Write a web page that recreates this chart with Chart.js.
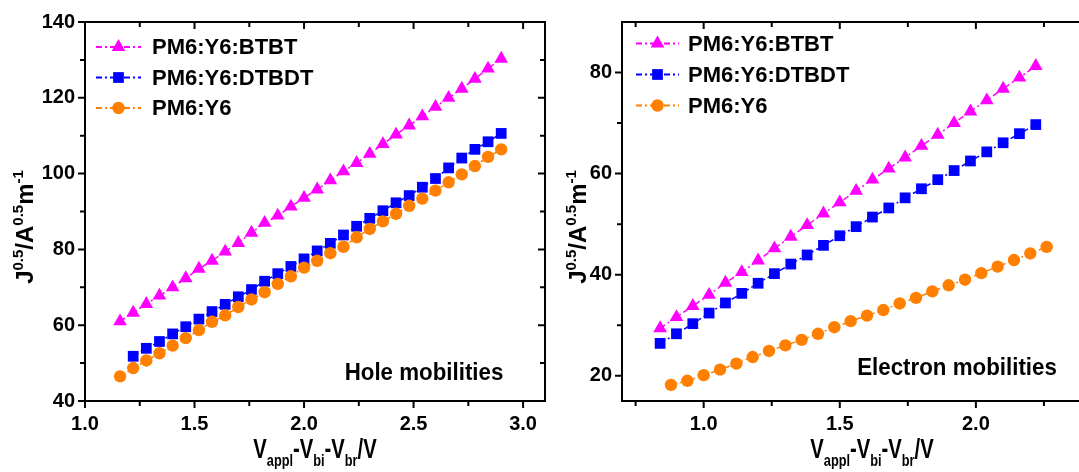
<!DOCTYPE html>
<html>
<head>
<meta charset="utf-8">
<script src="https://cdn.jsdelivr.net/npm/chart.js@4.4.1/dist/chart.umd.min.js"></script>
<style>
  html, body { margin: 0; padding: 0; background: #fff; overflow: hidden; }
  #wrap { position: relative; width: 1079px; height: 472px; overflow: hidden; }
  canvas { position: absolute; top: 0; }
  #holeChart { left: 0; }
  #elecChart { left: 560px; }
</style>
</head>
<body>
<div id="wrap">
  <canvas id="holeChart" width="560" height="472"></canvas>
  <canvas id="elecChart" width="570" height="472"></canvas>
</div>
<script>
// 1) Values
const seriesNames = ['PM6:Y6:BTBT', 'PM6:Y6:DTBDT', 'PM6:Y6'];
const seriesColors = ['#FF00FF', '#0000FF', '#FF8000'];
const seriesMarkers = ['triangle', 'rect', 'circle'];
const markerRadius = [7.9, 7.6, 6.2];

// hole-only devices
const holeV = [1.16, 1.22, 1.28, 1.34, 1.40, 1.46, 1.52, 1.58, 1.64, 1.70,
  1.76, 1.82, 1.88, 1.94, 2.00, 2.06, 2.12, 2.18, 2.24, 2.30,
  2.36, 2.42, 2.48, 2.54, 2.60, 2.66, 2.72, 2.78, 2.84, 2.90];
const holeBTBT = [61.0, 63.3, 65.6, 67.8, 70.0, 72.4, 74.9, 77.0, 79.4, 81.7,
  84.4, 87.0, 88.9, 91.3, 93.6, 95.8, 98.2, 100.6, 102.8, 105.2,
  107.8, 110.3, 112.7, 115.1, 117.6, 120.0, 122.4, 125.0, 127.7, 130.3];
const holeVDTBDT = [1.22, 1.28, 1.34, 1.40, 1.46, 1.52, 1.58, 1.64, 1.70,
  1.76, 1.82, 1.88, 1.94, 2.00, 2.06, 2.12, 2.18, 2.24, 2.30,
  2.36, 2.42, 2.48, 2.54, 2.60, 2.66, 2.72, 2.78, 2.84, 2.90];
const holeDTBDT = [51.8, 53.9, 55.7, 57.7, 59.6, 61.6, 63.6, 65.5, 67.5,
  69.4, 71.6, 73.6, 75.5, 77.5, 79.6, 81.6, 83.8, 86.1, 88.2,
  90.2, 92.3, 94.2, 96.4, 98.7, 101.5, 104.1, 106.4, 108.4, 110.6];
const holeY6 = [46.5, 48.7, 50.7, 52.6, 54.6, 56.6, 58.7, 60.9, 62.6, 64.8,
  66.8, 68.7, 70.9, 72.9, 75.2, 77.0, 79.0, 80.7, 83.2, 85.4,
  87.4, 89.4, 91.5, 93.4, 95.5, 97.7, 99.8, 102.0, 104.4, 106.4];

// electron-only devices
const elecV = [0.84, 0.90, 0.96, 1.02, 1.08, 1.14, 1.20, 1.26, 1.32, 1.38, 1.44, 1.50,
  1.56, 1.62, 1.68, 1.74, 1.80, 1.86, 1.92, 1.98, 2.04, 2.10, 2.16, 2.22];
const elecBTBT = [29.4, 31.6, 33.8, 36.0, 38.4, 40.5, 42.8, 45.2, 47.5, 49.8, 52.1, 54.3,
  56.6, 58.8, 61.0, 63.2, 65.5, 67.7, 70.0, 72.3, 74.5, 76.8, 79.0, 81.3];
const elecDTBDT = [26.4, 28.3, 30.3, 32.4, 34.4, 36.3, 38.3, 40.2, 42.1, 43.9, 45.8, 47.7,
  49.5, 51.4, 53.2, 55.2, 57.0, 58.8, 60.6, 62.5, 64.3, 66.1, 67.9, 69.7];
const elecVY6 = [0.88, 0.94, 1.00, 1.06, 1.12, 1.18, 1.24, 1.30, 1.36, 1.42, 1.48, 1.54,
  1.60, 1.66, 1.72, 1.78, 1.84, 1.90, 1.96, 2.02, 2.08, 2.14, 2.20, 2.26];
const elecY6 = [18.2, 19.0, 20.1, 21.2, 22.4, 23.7, 24.9, 26.0, 27.1, 28.3, 29.6, 30.8,
  31.9, 33.0, 34.3, 35.4, 36.7, 37.9, 39.0, 40.3, 41.6, 42.9, 44.2, 45.5];

// ticks
const holeXTicks = [1.0, 1.5, 2.0, 2.5, 3.0];
const holeXMinor = [1.25, 1.75, 2.25, 2.75];
const holeYTicks = [40, 60, 80, 100, 120, 140];
const holeYMinor = [50, 70, 90, 110, 130];
const elecXTicks = [1.0, 1.5, 2.0];
const elecXMinor = [0.75, 1.25, 1.75, 2.25];
const elecYTicks = [20, 40, 60, 80];
const elecYMinor = [30, 50, 70];

const FONT = '"Liberation Sans", Arial, sans-serif';
const DASH = [6, 3, 2, 3];

// 2) Frame with Origin-like ticks (out on bottom/left, in on top/right)
const framePlugin = {
  id: 'frame',
  afterDraw(chart, args, o) {
    const { ctx, chartArea: a, scales: { x, y } } = chart;
    ctx.save();
    ctx.strokeStyle = '#000';
    ctx.lineWidth = 2;
    ctx.strokeRect(a.left, a.top, a.right - a.left, a.bottom - a.top);
    ctx.beginPath();
    [[o.xMajor, 7], [o.xMinor, 5]].forEach(([vals, len]) => vals.forEach(v => {
      const px = x.getPixelForValue(v);
      ctx.moveTo(px, a.bottom); ctx.lineTo(px, a.bottom + len);
      ctx.moveTo(px, a.top); ctx.lineTo(px, a.top + len);
    }));
    [[o.yMajor, 7], [o.yMinor, 5]].forEach(([vals, len]) => vals.forEach(v => {
      const py = y.getPixelForValue(v);
      ctx.moveTo(a.left, py); ctx.lineTo(a.left - len, py);
      ctx.moveTo(a.right, py); ctx.lineTo(a.right - len, py);
    }));
    ctx.stroke();
    ctx.restore();
  }
};

// 3) Text helpers: mixed super/subscript runs
function drawRuns(ctx, runs, x, y, angle, sx) {
  ctx.save();
  ctx.translate(x, y);
  ctx.rotate(angle);
  ctx.scale(sx, 1);
  ctx.textAlign = 'left';
  ctx.textBaseline = 'alphabetic';
  ctx.fillStyle = '#000';
  let w = 0;
  runs.forEach(r => { ctx.font = r[1]; w += ctx.measureText(r[0]).width; });
  let cx = -w / 2;
  runs.forEach(r => {
    ctx.font = r[1];
    ctx.fillText(r[0], cx, r[2]);
    cx += ctx.measureText(r[0]).width;
  });
  ctx.restore();
}

function drawMarker(ctx, style, x, y, r, color) {
  ctx.fillStyle = color;
  ctx.beginPath();
  if (style === 'triangle') {
    ctx.moveTo(x, y - r);
    ctx.lineTo(x + r * 0.866, y + r * 0.5);
    ctx.lineTo(x - r * 0.866, y + r * 0.5);
    ctx.closePath();
  } else if (style === 'rect') {
    const s = r * Math.SQRT1_2;
    ctx.rect(x - s, y - s, 2 * s, 2 * s);
  } else {
    ctx.arc(x, y, r, 0, Math.PI * 2);
  }
  ctx.fill();
}

const yTitleRuns = [
  ['J', 'bold 24px ' + FONT, 0], ['0.5', 'bold 15px ' + FONT, -10],
  ['/A', 'bold 24px ' + FONT, 0], ['0.5', 'bold 15px ' + FONT, -10],
  ['m', 'bold 24px ' + FONT, 0], ['-1', 'bold 15px ' + FONT, -10]
];
const xTitleRuns = [
  ['V', 'bold 27px ' + FONT, 0], ['appl', 'bold 17px ' + FONT, 8],
  ['-V', 'bold 27px ' + FONT, 0], ['bi', 'bold 17px ' + FONT, 8],
  ['-V', 'bold 27px ' + FONT, 0], ['br', 'bold 17px ' + FONT, 8],
  ['/V', 'bold 27px ' + FONT, 0]
];

const textPlugin = {
  id: 'texts',
  afterDraw(chart, args, o) {
    const ctx = chart.ctx;
    ctx.save();
    // legend: dash-dot line with marker in the middle
    chart.data.datasets.forEach((ds, i) => {
      const ly = o.legend.y + i * o.legend.dy;
      ctx.strokeStyle = ds.borderColor;
      ctx.lineWidth = 2;
      ctx.setLineDash(DASH);
      ctx.beginPath();
      ctx.moveTo(o.legend.x0, ly);
      ctx.lineTo(o.legend.x1, ly);
      ctx.stroke();
      ctx.setLineDash([]);
      drawMarker(ctx, seriesMarkers[i], (o.legend.x0 + o.legend.x1) / 2, ly, markerRadius[i], ds.borderColor);
      ctx.fillStyle = '#000';
      ctx.font = 'bold 22px ' + FONT;
      ctx.textAlign = 'left';
      ctx.textBaseline = 'middle';
      ctx.fillText(ds.label, o.legend.tx, ly + 1);
    });
    ctx.restore();
    drawRuns(ctx, [[o.note.text, 'bold 24px ' + FONT, 0]], o.note.x, o.note.y, 0, 0.93);
    drawRuns(ctx, xTitleRuns, o.xTitle.x, o.xTitle.y, 0, 0.75);
    drawRuns(ctx, yTitleRuns, o.yTitle.x, o.yTitle.y, -Math.PI / 2, 1);
  }
};

// 4) Chart builder
function makeSeries(xs, ys, i) {
  return {
    label: seriesNames[i],
    data: xs.map((v, k) => ({ x: v, y: ys[k] })),
    showLine: true,
    borderColor: seriesColors[i],
    backgroundColor: seriesColors[i],
    borderWidth: 1.5,
    borderDash: DASH,
    pointStyle: seriesMarkers[i],
    pointRadius: markerRadius[i],
    pointBorderWidth: 0,
    pointBackgroundColor: seriesColors[i],
    fill: false,
    tension: 0,
    order: 3 - i
  };
}

function renderPanel(id, datasets, ax, frame, texts, yWidth, padRight) {
  const tickFont = { family: FONT, size: 20, weight: 'bold' };
  return new Chart(document.getElementById(id), {
    type: 'scatter',
    data: { datasets },
    plugins: [framePlugin, textPlugin],
    options: {
      responsive: false,
      animation: false,
      layout: { padding: { top: 16, right: padRight, left: 0, bottom: 0 } },
      scales: {
        x: {
          type: 'linear', min: ax.xMin, max: ax.xMax,
          grid: { display: false, drawTicks: false },
          border: { display: false },
          afterBuildTicks: s => { s.ticks = frame.xMajor.map(v => ({ value: v })); },
          afterFit: s => { s.height = 71; },
          ticks: { font: tickFont, color: '#000', padding: 11, maxRotation: 0,
            callback: v => Number(v).toFixed(1) }
        },
        y: {
          type: 'linear', min: ax.yMin, max: ax.yMax,
          grid: { display: false, drawTicks: false },
          border: { display: false },
          afterBuildTicks: s => { s.ticks = frame.yMajor.map(v => ({ value: v })); },
          afterFit: s => { s.width = yWidth; },
          ticks: { font: tickFont, color: '#000', padding: 10,
            callback: v => String(v) }
        }
      },
      plugins: {
        legend: { display: false },
        tooltip: { enabled: false },
        frame,
        texts
      }
    }
  });
}

// 5) Hole mobilities panel
renderPanel('holeChart',
  [makeSeries(holeV, holeBTBT, 0), makeSeries(holeVDTBDT, holeDTBDT, 1), makeSeries(holeV, holeY6, 2)],
  { xMin: 1.0, xMax: 3.1, yMin: 40, yMax: 140 },
  { xMajor: holeXTicks, xMinor: holeXMinor, yMajor: holeYTicks, yMinor: holeYMinor },
  {
    legend: { x0: 96, x1: 141, tx: 152, y: 47, dy: 30.5 },
    note: { text: 'Hole mobilities', x: 424, y: 380 },
    xTitle: { x: 315, y: 458 },
    yTitle: { x: 33, y: 227 }
  }, 85, 15);

// 6) Electron mobilities panel (right edge of its frame lies past the picture)
renderPanel('elecChart',
  [makeSeries(elecV, elecBTBT, 0), makeSeries(elecV, elecDTBDT, 1), makeSeries(elecVY6, elecY6, 2)],
  { xMin: 0.7, xMax: 2.5, yMin: 15, yMax: 90 },
  { xMajor: elecXTicks, xMinor: elecXMinor, yMajor: elecYTicks, yMinor: elecYMinor },
  {
    legend: { x0: 76, x1: 119, tx: 128, y: 43.5, dy: 31 },
    note: { text: 'Electron mobilities', x: 397, y: 375 },
    xTitle: { x: 312, y: 458 },
    yTitle: { x: 26, y: 227 }
  }, 62, 18);
</script>
</body>
</html>
